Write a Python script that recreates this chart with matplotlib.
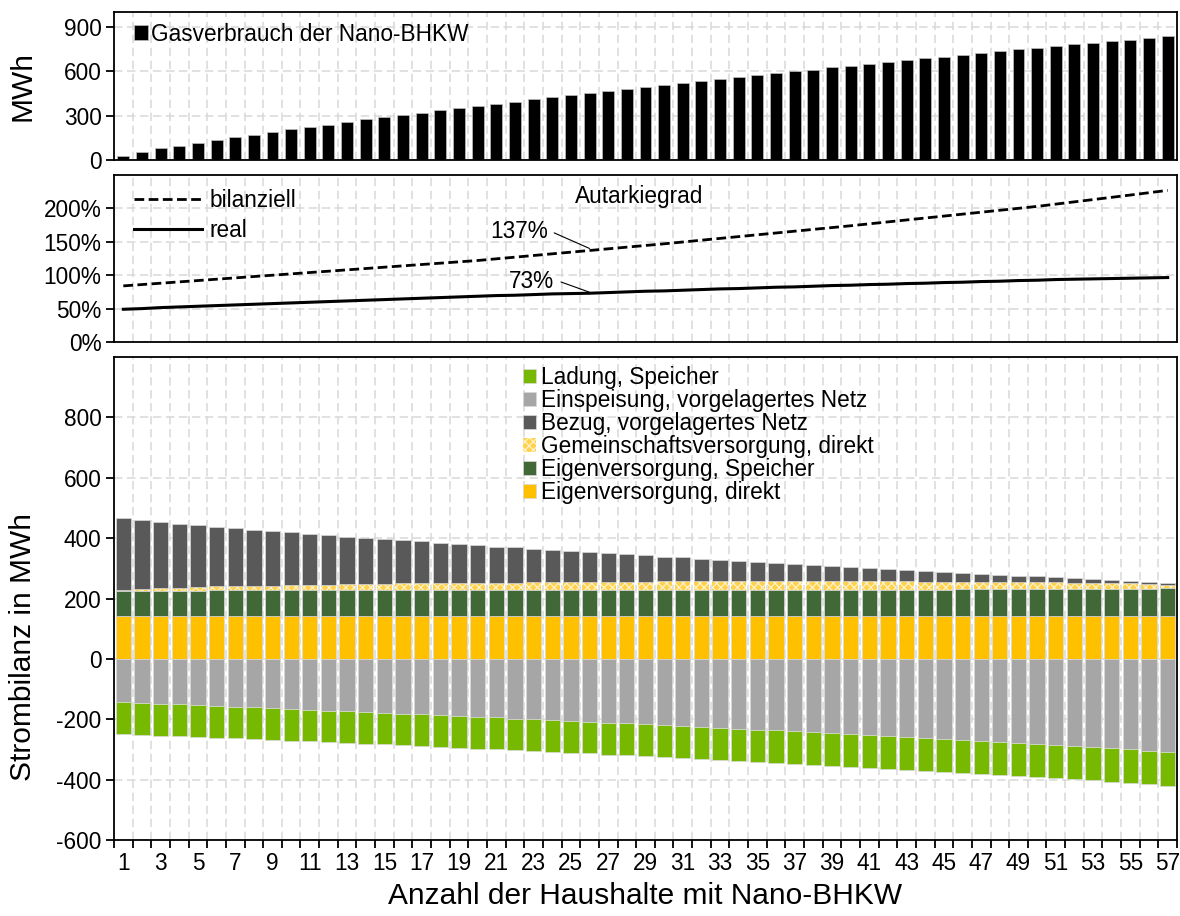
import numpy as np
import matplotlib
matplotlib.use("Agg")
import matplotlib.pyplot as plt
from matplotlib.ticker import FuncFormatter

plt.rcParams['font.family'] = ['Liberation Sans', 'DejaVu Sans']
plt.rcParams['hatch.linewidth'] = 0.8
plt.rcParams['axes.unicode_minus'] = False

# ---------------- data ----------------
households = list(range(1, 58))

gas_mwh = [29, 56, 79, 96, 117, 135, 153, 171, 189, 207, 222, 238, 256, 276, 292, 306, 319, 335, 348,
           364, 378, 393, 409, 423, 436, 450, 465, 479, 492, 506, 519, 533, 546, 560, 573, 587, 600,
           611, 625, 638, 652, 663, 676, 688, 699, 712, 726, 735, 748, 760, 771, 782, 791, 802, 813,
           825, 836]

autarkie_bilanziell = [84, 86, 88, 90, 92, 94, 96, 98, 100, 102, 104, 106, 108, 110, 112, 114, 116, 118,
                       120, 122, 124.5, 127, 129.5, 132, 134.5, 137, 139.5, 142, 144.5, 147, 149.7, 152.4,
                       155.1, 157.8, 160.5, 163.2, 165.9, 168.6, 171.3, 174, 176.9, 179.8, 182.7, 185.6,
                       188.5, 191.4, 194.3, 197.2, 200.1, 203, 206.4, 209.8, 213.2, 216.6, 220, 223.5, 227]

autarkie_real = [49, 50, 51.5, 52.5, 53.5, 54.5, 55.5, 56.5, 57.5, 58.5, 59.5, 60.5, 61.5, 62.5, 63.5,
                 64.5, 65.5, 66.5, 67.5, 68.5, 69.5, 70, 71, 72, 72.5, 73, 74, 75, 76, 76.5, 77.5, 78.5,
                 79.5, 80, 81, 82, 82.5, 83.5, 84.5, 85, 86, 86.5, 87.5, 88, 89, 89.5, 90.5, 91, 92,
                 92.5, 93.5, 94, 94.5, 95, 95.5, 96, 96.5]

eigen_direkt = [141] * 20 + [142] * 20 + [143] * 17

eigen_speicher = [85, 85, 85, 85, 85, 86, 86, 86, 86, 86, 86, 86, 86, 86, 86, 87, 87, 87, 87, 87,
                  86, 86, 86, 86, 86, 86, 86, 86, 86, 87, 87, 87, 87, 87, 87, 87, 87, 87, 87, 87,
                  86, 86, 86, 86, 86, 87, 87, 87, 87, 87, 88, 88, 88, 89, 89, 90, 91]

gemeinschaft = [2, 5, 8, 10, 12, 13, 14, 15, 16, 17, 18, 19, 20, 21, 22, 22, 23, 23, 24, 24,
                25, 25, 26, 26, 26, 27, 27, 28, 28, 29, 29, 29, 29, 29, 29, 29, 29, 29, 29, 29,
                28, 28, 28, 27, 27, 26, 26, 25, 25, 24, 23, 22, 21, 19, 18, 16, 12]

bezug = [238, 229, 220, 212, 205, 198, 192, 186, 180, 175, 169, 164, 158, 153, 148, 143, 138, 133,
         128, 124, 119, 116, 111, 107, 103, 99, 95, 90, 87, 81, 78, 74, 70, 67, 63, 60, 56, 53, 49,
         46, 44, 41, 37, 35, 32, 29, 26, 24, 21, 19, 16, 14, 12, 10, 9, 7, 7]

einspeisung = [144, 146, 149, 151, 153, 156, 158, 161, 163, 166, 169, 172, 174, 177, 179, 182, 184,
               187, 189, 192, 194, 198, 200, 202, 206, 208, 211, 213, 217, 219, 222, 226, 228, 231,
               234, 237, 240, 243, 246, 249, 252, 256, 259, 261, 264, 268, 271, 274, 278, 281, 284,
               288, 291, 296, 300, 304, 309]

ladung = [106, 106, 105, 106, 106, 105, 105, 106, 106, 105, 104, 104, 105, 104, 104, 104, 105, 104,
          105, 105, 106, 104, 106, 106, 105, 105, 106, 107, 105, 107, 107, 106, 106, 107, 107, 107,
          108, 108, 108, 109, 109, 108, 109, 110, 110, 110, 111, 112, 111, 111, 112, 111, 111, 111,
          111, 112, 112]

xtick_labels = [str(v) for v in range(1, 58, 2)]

# ---------------- styles ----------------
GRID = dict(color='#d9d9d9', linewidth=1.1, linestyle=(0, (5.5, 3)))
C_LADUNG = '#77B800'
C_EINSP = '#A6A6A6'
C_BEZUG = '#595959'
C_GEM = '#FFD24D'
C_ESP = '#416937'
C_EDIR = '#FFC000'
FS = 16.3
FS_LAB = 21.5

x = np.array(households)

fig = plt.figure(figsize=(11.8, 9.16), dpi=100)
L, W = 114 / 1180, 1063 / 1180
ax1 = fig.add_axes([L, (916 - 160) / 916, W, 148 / 916])
ax2 = fig.add_axes([L, (916 - 342) / 916, W, 167 / 916])
ax3 = fig.add_axes([L, (916 - 840) / 916, W, 483 / 916])

for ax in (ax1, ax2, ax3):
    ax.set_xlim(0.5, 57.5)
    ax.set_xticks(np.arange(0.5, 58, 1), minor=True)
    ax.grid(which='minor', axis='x', **GRID)
    ax.grid(which='major', axis='y', **GRID)
    ax.set_axisbelow(True)
    for s in ax.spines.values():
        s.set_color('black')
        s.set_linewidth(1.3)
    ax.tick_params(axis='y', which='major', direction='out', length=6, width=1.3,
                   labelsize=FS, pad=3)
    ax.tick_params(axis='y', which='minor', length=0)

# ---- top panel ----
ax1.bar(x, gas_mwh, width=0.64, color='black', edgecolor='#bfbfbf', linewidth=0.5,
        label='Gasverbrauch der Nano-BHKW', zorder=2)
ax1.set_ylim(0, 1000)
ax1.set_yticks([0, 300, 600, 900])
ax1.tick_params(axis='x', which='both', length=0, labelbottom=False)
ax1.set_ylabel('MWh', fontsize=FS_LAB)
ax1.yaxis.set_label_coords(-0.073, 0.5)
ax1.legend(loc='upper left', bbox_to_anchor=(0.004, 1.035), frameon=False, fontsize=FS,
           handlelength=0.62, handleheight=0.62, handletextpad=0.12, borderaxespad=0.3)

# ---- middle panel ----
ax2.plot(x, np.array(autarkie_bilanziell) / 100, color='black', linestyle=(0, (3.5, 1.6)),
         linewidth=2.0, label='bilanziell', zorder=3)
ax2.plot(x, np.array(autarkie_real) / 100, color='black', linestyle='-', linewidth=2.2,
         label='real', zorder=3)
ax2.set_ylim(0, 2.5)
ax2.set_yticks([0, 0.5, 1.0, 1.5, 2.0])
ax2.yaxis.set_major_formatter(FuncFormatter(lambda v, p: f'{v * 100:.0f}%'))
ax2.tick_params(axis='x', which='both', length=0, labelbottom=False)
ax2.legend(loc='upper left', bbox_to_anchor=(0.004, 1.01), frameon=False, fontsize=FS,
           handlelength=3.0, handletextpad=0.35, labelspacing=0.3, borderaxespad=0.3)
ax2.text(0.494, 0.872, 'Autarkiegrad', transform=ax2.transAxes, ha='center', va='center',
         fontsize=FS)
ax2.annotate('137%', xy=(26, 1.40), xytext=(22.2, 1.66), fontsize=FS, ha='center', va='center',
             arrowprops=dict(arrowstyle='-', color='black', lw=0.8, shrinkA=3, shrinkB=0,
                             relpos=(1.0, 0.55)))
ax2.annotate('73%', xy=(26, 0.745), xytext=(22.9, 0.90), fontsize=FS, ha='center', va='center',
             arrowprops=dict(arrowstyle='-', color='black', lw=0.8, shrinkA=3, shrinkB=0,
                             relpos=(1.0, 0.6)))

# ---- bottom panel ----
bw = 0.82
ec = '#d9d9d9'
ed = np.array(eigen_direkt)
es = np.array(eigen_speicher)
gm = np.array(gemeinschaft)
bz = np.array(bezug)
ei = np.array(einspeisung)
ld = np.array(ladung)

h_edir = ax3.bar(x, ed, width=bw, color=C_EDIR, edgecolor=ec, linewidth=0.5, zorder=2)
h_esp = ax3.bar(x, es, bottom=ed, width=bw, color=C_ESP, edgecolor=ec, linewidth=0.5, zorder=2)
h_gem = ax3.bar(x, gm, bottom=ed + es, width=bw, color=C_GEM, edgecolor='#FFF4D6', linewidth=0,
                hatch='xxxx', zorder=2)
h_bez = ax3.bar(x, bz, bottom=ed + es + gm, width=bw, color=C_BEZUG, edgecolor=ec, linewidth=0.5,
                zorder=2)
h_ein = ax3.bar(x, -ei, width=bw, color=C_EINSP, edgecolor=ec, linewidth=0.5, zorder=2)
h_lad = ax3.bar(x, -ld, bottom=-ei, width=bw, color=C_LADUNG, edgecolor=ec, linewidth=0.5,
                zorder=2)

ax3.set_ylim(-600, 1000)
ax3.set_yticks(np.arange(-600, 801, 200))
ax3.set_xticks(x[::2])
ax3.set_xticklabels(xtick_labels)
ax3.tick_params(axis='x', which='major', length=0, labelsize=FS, pad=9)
ax3.tick_params(axis='x', which='minor', direction='out', length=6, width=1.3)
ax3.set_ylabel('Strombilanz in MWh', fontsize=FS_LAB)
ax3.yaxis.set_label_coords(-0.072, 0.40)
ax3.set_xlabel('Anzahl der Haushalte mit Nano-BHKW', fontsize=FS_LAB, labelpad=5)

handles = [h_lad, h_ein, h_bez, h_gem, h_esp, h_edir]
labels = ['Ladung, Speicher', 'Einspeisung, vorgelagertes Netz', 'Bezug, vorgelagertes Netz',
          'Gemeinschaftsversorgung, direkt', 'Eigenversorgung, Speicher', 'Eigenversorgung, direkt']
ax3.legend(handles, labels, loc='upper left', bbox_to_anchor=(0.37, 1.014), frameon=False,
           fontsize=FS, handlelength=0.55, handleheight=0.55, handletextpad=0.25,
           labelspacing=0.0, borderaxespad=0.3)

fig.savefig('out.png', dpi=100)
